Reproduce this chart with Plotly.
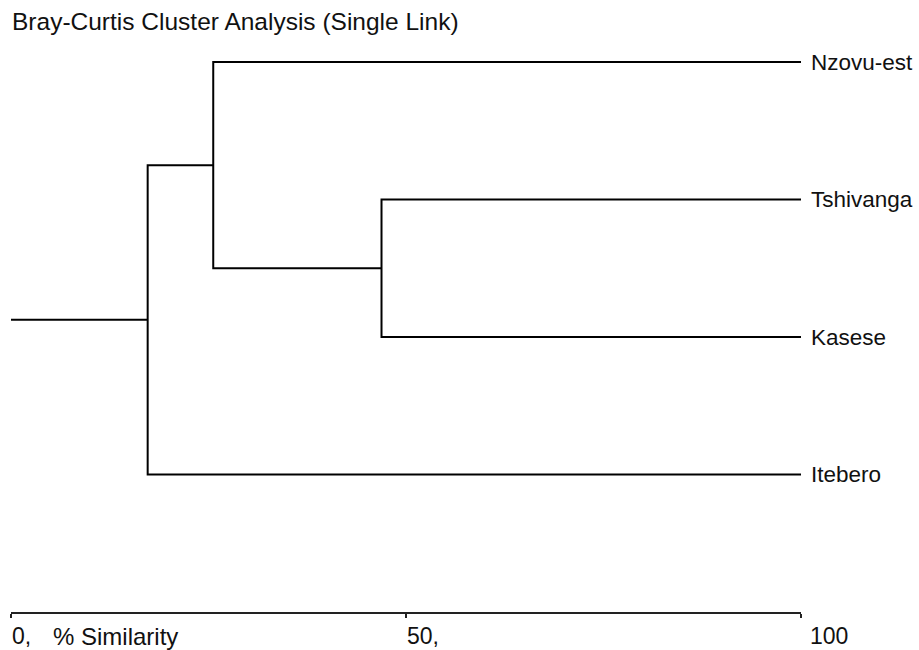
import plotly.graph_objects as go

# ---- data ----
leaves = ["Nzovu-est", "Tshivanga", "Kasese", "Itebero"]
leaf_rank = [4, 3, 2, 1]  # vertical order, top to bottom
# merges: (child_a, child_b, % similarity at join)
merges = [
    ("Tshivanga", "Kasese", 46.9),
    ("Nzovu-est", "N1", 25.6),
    ("N2", "Itebero", 17.3),
]
merge_names = ["N1", "N2", "N3"]
tick_vals = [0, 50, 100]
tick_text = ["0,", "50,", "100"]
title_text = "Bray-Curtis Cluster Analysis (Single Link)"
axis_title = "% Similarity"

# ---- build dendrogram segments ----
pos = {name: (100.0, r) for name, r in zip(leaves, leaf_rank)}
xs, ys = [], []
for name, (a, b, h) in zip(merge_names, merges):
    xa, ya = pos[a]
    xb, yb = pos[b]
    xs += [xa, h, h, xb, None]
    ys += [ya, ya, yb, yb, None]
    pos[name] = (h, (ya + yb) / 2)
rx, ry = pos[merge_names[-1]]
xs += [rx, 0, None]
ys += [ry, ry, None]

FONT = "Liberation Sans, Arial, sans-serif"
fig = go.Figure()
fig.add_trace(go.Scatter(x=xs, y=ys, mode="lines",
                         line=dict(color="black", width=2),
                         hoverinfo="skip", showlegend=False, cliponaxis=False))

ann = []
for name, r in zip(leaves, leaf_rank):
    ann.append(dict(x=100, y=r, xref="x", yref="y", text=name, showarrow=False,
                    xanchor="left", yanchor="middle", xshift=8,
                    font=dict(size=22.5, color="#111", family=FONT)))
for v, t, sh in zip(tick_vals, tick_text, [-1, -1, 7]):
    ann.append(dict(x=v, y=0, xref="x", yref="y", text=t, showarrow=False,
                    xanchor="left", yanchor="middle", xshift=sh, yshift=-24,
                    font=dict(size=23, color="#111", family=FONT)))
ann.append(dict(x=0, y=0, xref="x", yref="y", text=axis_title, showarrow=False,
                xanchor="left", yanchor="middle", xshift=40, yshift=-24,
                font=dict(size=24, color="#111", family=FONT)))
ann.append(dict(x=0, y=1, xref="paper", yref="paper", text=title_text, showarrow=False,
                xanchor="left", yanchor="middle", xshift=-1, yshift=0,
                font=dict(size=24.5, color="#111", family=FONT)))

fig.update_layout(
    width=919, height=650,
    margin=dict(l=11, r=118, t=21, b=38),
    paper_bgcolor="white", plot_bgcolor="white",
    annotations=ann,
    xaxis=dict(range=[0, 100], tickvals=tick_vals, ticktext=["", "", ""],
               showline=True, linecolor="#222", linewidth=1.5,
               ticks="outside", ticklen=4, tickwidth=1.5, tickcolor="#222",
               showgrid=False, zeroline=False, fixedrange=True),
    yaxis=dict(range=[0, 591 / 137.5], visible=False, showgrid=False,
               zeroline=False, fixedrange=True),
)
fig.write_html("out.html")
